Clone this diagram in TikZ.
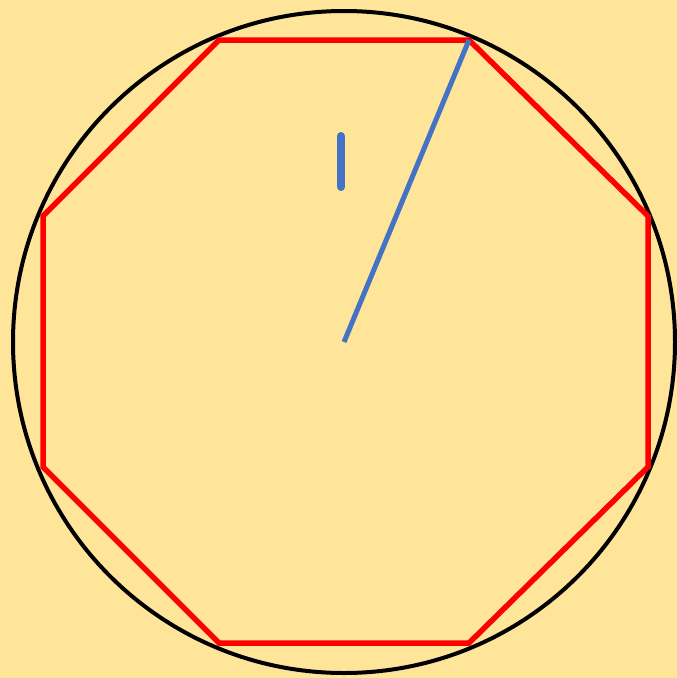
\documentclass[tikz,border=0pt]{standalone}
\definecolor{bg}{HTML}{FFE599}
\definecolor{bl}{HTML}{4472C4}
\begin{document}
\begin{tikzpicture}[x=1pt,y=-1pt]
\fill[bg] (0,0) rectangle (677,678);
\useasboundingbox (0,0) rectangle (677,678);
\coordinate (O) at (344,342);
\draw[line width=4pt,black] (O) circle[radius=331];
\coordinate (v1) at (219,40);
\coordinate (v2) at (469,40);
\coordinate (v3) at (648,216);
\coordinate (v4) at (648,467);
\coordinate (v5) at (469,643);
\coordinate (v6) at (219,643);
\coordinate (v7) at (43,467);
\coordinate (v8) at (43,216);
\draw[line width=5.5pt,red,line join=miter] (v1)--(v2)--(v3)--(v4)--(v5)--(v6)--(v7)--(v8)--cycle;
\draw[line width=5pt,bl] (O)--(v2);
\coordinate (la) at (341,136);
\coordinate (lb) at (341,187);
\draw[line width=8pt,bl,line cap=round] (la)--(lb);
\end{tikzpicture}
\end{document}
